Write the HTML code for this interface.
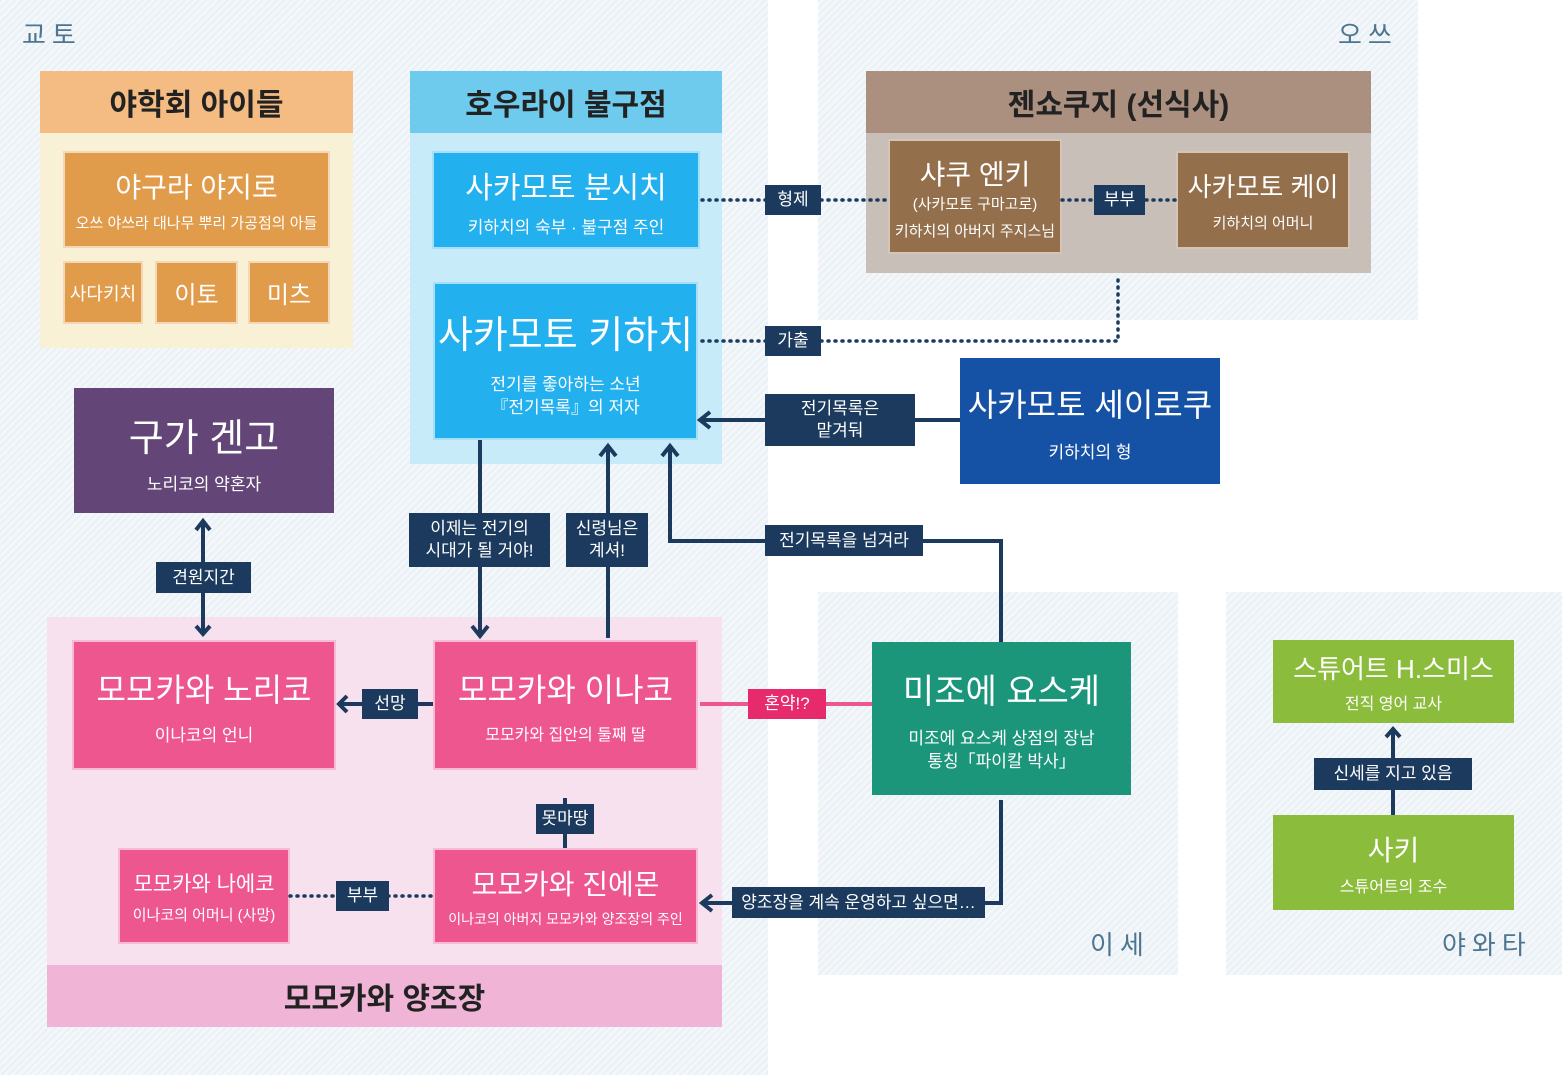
<!DOCTYPE html><html><head><meta charset="utf-8"><style>
body{margin:0;width:1562px;height:1075px;position:relative;background:#fff;font-family:"Liberation Sans","Noto Sans CJK KR",sans-serif;overflow:hidden}
.a{position:absolute;box-sizing:border-box}
.rg{background:repeating-linear-gradient(135deg,#eaf1f6 0 2px,#f3f7fa 2px 5px)}
.n{position:absolute;box-sizing:border-box;color:#fff;text-align:center;display:flex;flex-direction:column;justify-content:center;align-items:center;border:2px solid rgba(255,255,255,.6)}
.l{position:absolute;background:#1b3a5e;color:#fff;font-size:17px;text-align:center;display:flex;align-items:center;justify-content:center;line-height:22px;box-sizing:border-box}
.h{position:absolute;display:flex;align-items:center;justify-content:center;font-size:30px;color:#222;font-weight:bold}
.t{position:absolute;font-size:26px;color:#4d7590;letter-spacing:6px}
</style></head><body>
<div class="a rg" style="left:0;top:0;width:768px;height:1075px"></div>
<div class="a rg" style="left:818px;top:0;width:600px;height:320px"></div>
<div class="a rg" style="left:818px;top:592px;width:360px;height:383px"></div>
<div class="a rg" style="left:1226px;top:592px;width:336px;height:383px"></div>
<div class="t" style="left:22px;top:15px">교토</div>
<div class="t" style="left:1338px;top:15px">오쓰</div>
<div class="t" style="left:1090px;top:925px">이세</div>
<div class="t" style="left:1442px;top:925px">야와타</div>

<div class="a" style="left:40px;top:71px;width:313px;height:277px;background:#f8f1d6"></div>
<div class="h" style="left:40px;top:71px;width:313px;height:62px;background:#f4bb83">야학회 아이들</div>
<div class="n" style="left:63px;top:151px;width:267px;height:97px;background:#e09c4b"><div style="font-size:28px">야구라 야지로</div><div style="font-size:15px;margin-top:6px">오쓰 야쓰라 대나무 뿌리 가공점의 아들</div></div>
<div class="n" style="left:63px;top:261px;width:80px;height:63px;background:#e09c4b;font-size:18px">사다키치</div>
<div class="n" style="left:155px;top:261px;width:83px;height:63px;background:#e09c4b;font-size:24px">이토</div>
<div class="n" style="left:248px;top:261px;width:82px;height:63px;background:#e09c4b;font-size:24px">미츠</div>

<div class="a" style="left:410px;top:71px;width:312px;height:393px;background:#c7ebf8"></div>
<div class="h" style="left:410px;top:71px;width:312px;height:62px;background:#6ecbee">호우라이 불구점</div>
<div class="n" style="left:432px;top:151px;width:268px;height:98px;background:#22b0ee"><div style="font-size:30px">사카모토 분시치</div><div style="font-size:17px;margin-top:6px">키하치의 숙부 · 불구점 주인</div></div>
<div class="n" style="left:433px;top:282px;width:265px;height:158px;background:#22b0ee"><div style="font-size:38px">사카모토 키하치</div><div style="font-size:17px;margin-top:14px;line-height:23px">전기를 좋아하는 소년<br>『전기목록』의 저자</div></div>

<div class="a" style="left:866px;top:71px;width:505px;height:202px;background:#c8bfb8"></div>
<div class="h" style="left:866px;top:71px;width:505px;height:62px;background:#ab9080">젠쇼쿠지 (선식사)</div>
<div class="n" style="left:888px;top:139px;width:174px;height:115px;background:#946f4c"><div style="font-size:28px">샤쿠 엔키</div><div style="font-size:15px">(사카모토 구마고로)</div><div style="font-size:15px;margin-top:6px">키하치의 아버지 주지스님</div></div>
<div class="n" style="left:1176px;top:151px;width:174px;height:98px;background:#946f4c"><div style="font-size:26px">사카모토 케이</div><div style="font-size:15px;margin-top:8px">키하치의 어머니</div></div>

<div class="n" style="left:960px;top:358px;width:260px;height:126px;background:#1552a6;border:none"><div style="font-size:32px">사카모토 세이로쿠</div><div style="font-size:17px;margin-top:12px">키하치의 형</div></div>
<div class="n" style="left:74px;top:388px;width:260px;height:125px;background:#634577;border:none"><div style="font-size:38px">구가 겐고</div><div style="font-size:17px;margin-top:8px">노리코의 약혼자</div></div>

<div class="a" style="left:47px;top:617px;width:675px;height:410px;background:#f8e1ee"></div>
<div class="h" style="left:47px;top:965px;width:675px;height:62px;background:#f0b4d7">모모카와 양조장</div>
<div class="n" style="left:72px;top:640px;width:264px;height:130px;background:#ee5690"><div style="font-size:32px">모모카와 노리코</div><div style="font-size:17px;margin-top:10px">이나코의 언니</div></div>
<div class="n" style="left:433px;top:640px;width:265px;height:130px;background:#ee5690"><div style="font-size:32px">모모카와 이나코</div><div style="font-size:16px;margin-top:10px">모모카와 집안의 둘째 딸</div></div>
<div class="n" style="left:118px;top:848px;width:172px;height:96px;background:#ee5690"><div style="font-size:21px">모모카와 나에코</div><div style="font-size:15px;margin-top:6px">이나코의 어머니 (사망)</div></div>
<div class="n" style="left:433px;top:848px;width:265px;height:96px;background:#ee5690"><div style="font-size:28px">모모카와 진에몬</div><div style="font-size:14px;margin-top:6px">이나코의 아버지 모모카와 양조장의 주인</div></div>

<div class="n" style="left:872px;top:642px;width:259px;height:153px;background:#1b967b;border:none"><div style="font-size:34px">미조에 요스케</div><div style="font-size:17px;margin-top:14px;line-height:23px">미조에 요스케 상점의 장남<br>통칭「파이칼 박사」</div></div>
<div class="n" style="left:1273px;top:640px;width:241px;height:83px;background:#8cbc3c;border:none"><div style="font-size:26px">스튜어트 H.스미스</div><div style="font-size:16px;margin-top:4px">전직 영어 교사</div></div>
<div class="n" style="left:1273px;top:815px;width:241px;height:95px;background:#8cbc3c;border:none"><div style="font-size:28px">사키</div><div style="font-size:16px;margin-top:4px">스튜어트의 조수</div></div>

<svg class="a" style="left:0;top:0" width="1562" height="1075">
<g stroke="#1b3a5e" stroke-width="3.5" stroke-dasharray="1 6" stroke-linecap="round" fill="none">
<path d="M702 200H888M1062 200H1176M702 341H1118V275M290 896H433"/>
</g>
<g stroke="#1b3a5e" stroke-width="4" fill="none">
<path d="M915 420H960M480 440V636M608 446V638M670 446V541H1001V642M1001 800V903H704M203 521V634M341 704H433M565 798V848M1393 815V729M702 420H765"/>
</g>
<path d="M700 704H872" stroke="#ee5690" stroke-width="4"/>
<g fill="none" stroke="#1b3a5e" stroke-width="4">
<path d="M710 412L700 420L710 428M472 626L480 636L488 626M600 456L608 446L616 456M662 456L670 446L678 456M196 530L203 521L210 530M196 626L203 634L210 626M347 696L339 704L347 712M712 895L702 903L712 911M1386 737L1393 729L1400 737"/>
</g>
</svg>
<div class="l" style="left:765px;top:185px;width:56px;height:30px">형제</div>
<div class="l" style="left:1094px;top:185px;width:51px;height:30px">부부</div>
<div class="l" style="left:765px;top:326px;width:56px;height:30px">가출</div>
<div class="l" style="left:765px;top:394px;width:150px;height:52px">전기목록은<br>맡겨둬</div>
<div class="l" style="left:765px;top:525px;width:158px;height:31px">전기목록을 넘겨라</div>
<div class="l" style="left:409px;top:513px;width:141px;height:54px">이제는 전기의<br>시대가 될 거야!</div>
<div class="l" style="left:566px;top:513px;width:82px;height:54px">신령님은<br>계셔!</div>
<div class="l" style="left:156px;top:562px;width:95px;height:31px">견원지간</div>
<div class="l" style="left:362px;top:689px;width:56px;height:30px">선망</div>
<div class="l" style="left:748px;top:689px;width:78px;height:30px;background:#e72a6c">혼약!?</div>
<div class="l" style="left:536px;top:804px;width:58px;height:30px">못마땅</div>
<div class="l" style="left:336px;top:881px;width:53px;height:30px">부부</div>
<div class="l" style="left:732px;top:887px;width:253px;height:31px">양조장을 계속 운영하고 싶으면…</div>
<div class="l" style="left:1314px;top:758px;width:158px;height:32px">신세를 지고 있음</div>
</body></html>
